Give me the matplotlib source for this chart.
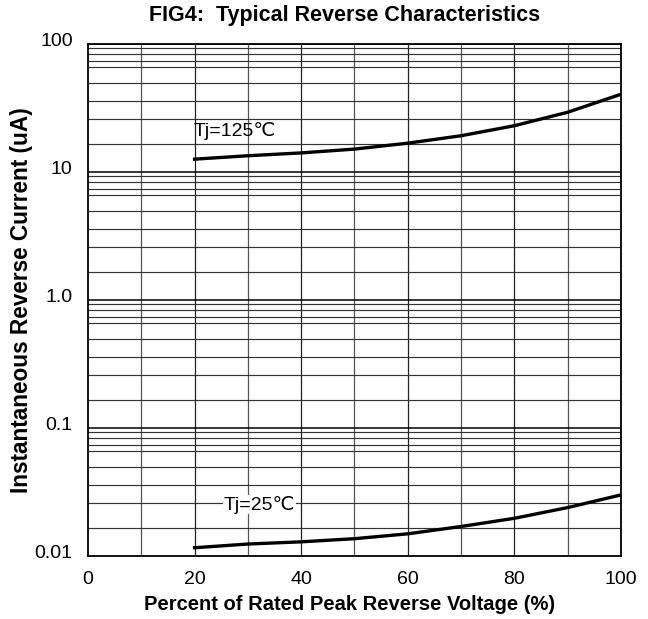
import numpy as np
import matplotlib.pyplot as plt
from matplotlib.transforms import ScaledTranslation

plt.rcParams["font.family"] = ["Liberation Sans", "DejaVu Sans"]

# percent of rated peak reverse voltage
volt_pct = [20, 30, 40, 50, 60, 70, 80, 90, 100]
# reverse current (uA)
i_125 = [12.6, 13.4, 14.1, 15.1, 16.8, 19.2, 23.0, 29.3, 40.5]
i_25 = [0.0116, 0.0124, 0.0129, 0.01365, 0.0149, 0.0170, 0.0197, 0.0239, 0.0300]

x_ticks = [0, 20, 40, 60, 80, 100]
y_ticks = [0.01, 0.1, 1, 10, 100]
y_labels = ["0.01", "0.1", "1.0", "10", "100"]
# the datasheet grid inside each decade (fractions of the upper decade line)
minor_frac = [0.925, 0.835, 0.74, 0.665, 0.5, 0.36, 0.26, 0.165]

fig = plt.figure(figsize=(6.48, 6.19), dpi=100)
ax = fig.add_axes([0.1358, 0.1018, 0.8225, 0.8271])
ax.set_yscale("log")
ax.set_xlim(0, 100)
ax.set_ylim(0.01, 100)

# grid
for xv in range(10, 100, 10):
    ax.axvline(xv, color="#222222" if xv % 20 == 0 else "#555555", lw=0.9, zorder=1)
for dec in [0.1, 1, 10, 100]:
    ax.axhline(dec, color="black", lw=1.1, zorder=1)
    for f in minor_frac:
        ax.axhline(dec * f, color="#333333", lw=0.85, zorder=1)

ax.plot(volt_pct, i_125, color="black", lw=2.4, zorder=3)
ax.plot(volt_pct, i_25, color="black", lw=2.4, zorder=3)

ax.text(19.8, 20.9, "Tj=125\u2103", fontsize=14,
        va="center", ha="left", zorder=4)
ax.text(25.4, 0.0252, "Tj=25\u2103", fontsize=14,
        va="center", ha="left", zorder=4,
        bbox=dict(facecolor="white", edgecolor="none", pad=0.5))

ax.set_xticks(x_ticks)
ax.set_xticklabels([str(v) for v in x_ticks])
ax.set_yticks(y_ticks)
ax.set_yticklabels(y_labels)
ax.minorticks_off()
ax.tick_params(axis="both", length=0, labelsize=14)
ax.tick_params(axis="x", pad=11)
ax.tick_params(axis="y", pad=11)
# the datasheet prints the y labels a little above their lines
up = ScaledTranslation(0, 4.5 / 100, fig.dpi_scale_trans)
for lab in ax.get_yticklabels():
    lab.set_transform(lab.get_transform() + up)

for sp in ax.spines.values():
    sp.set_linewidth(1.3)
    sp.set_color("black")

fig.text(345 / 648, 1 - 16 / 619, "FIG4:  Typical Reverse Characteristics",
         ha="center", va="center", fontsize=15.5, fontweight="bold")
fig.text(350 / 648, 1 - 604 / 619, "Percent of Rated Peak Reverse Voltage (%)",
         ha="center", va="center", fontsize=14.5, fontweight="bold")
fig.text(22 / 648, 1 - 300 / 619, "Instantaneous Reverse Current (uA)",
         ha="center", va="center", rotation=90, fontsize=16.3, fontweight="bold")

fig.savefig("out.png", dpi=100)
